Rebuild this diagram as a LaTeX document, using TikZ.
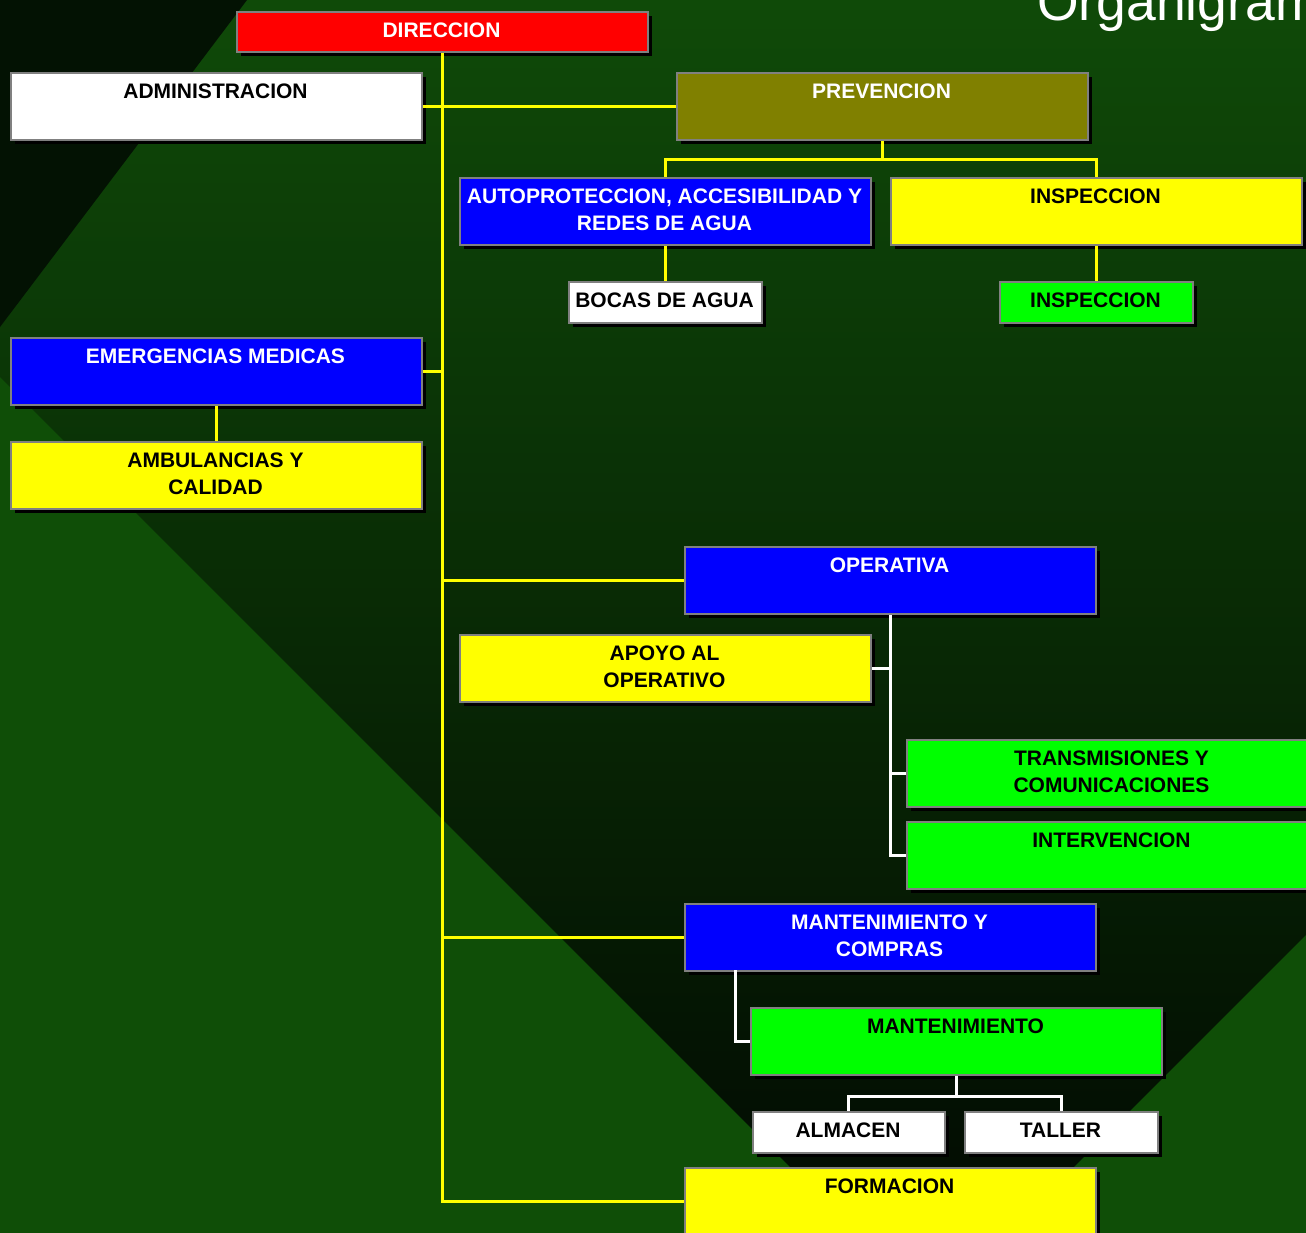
\documentclass[tikz,border=0pt]{standalone}
\usepackage{fontspec}
\setmainfont{Liberation Sans}
\usetikzlibrary{shadows}
\definecolor{bgtop}{HTML}{0F4A08}
\definecolor{bgmid}{HTML}{093206}
\definecolor{bgbot}{HTML}{020A02}
\definecolor{bglight}{HTML}{0F4E07}
\definecolor{bgdark}{HTML}{031203}
\definecolor{olivebox}{HTML}{808000}
\definecolor{bluebox}{HTML}{0000FF}
\definecolor{yellowbox}{HTML}{FFFF00}
\definecolor{greenbox}{HTML}{00FF00}
\definecolor{redbox}{HTML}{FF0000}
\definecolor{edgegray}{HTML}{808080}
\newcommand{\obox}[8]{%
  \node[orgbox, fill=#6, minimum width={#4-#2}, minimum height={#5-#3}] (#1) at (#2,#3) {};
  \node[lbl, text=#7] (#1-t) at ({(#2+#4)/2},{#3+12}) {#8};
}
\begin{document}
\begin{tikzpicture}[x=1pt,y=-1pt,
  orgbox/.style={draw=edgegray, line width=1.8pt, rectangle, inner sep=0pt, anchor=north west,
    drop shadow={shadow xshift=4.5pt, shadow yshift=-4.5pt, opacity=1, fill=black}},
  lbl/.style={anchor=north, inner sep=0pt, align=center, font=\fontsize{21}{26.5}\selectfont\bfseries},
  ylink/.style={draw=yellowbox, line width=3pt},
  wlink/.style={draw=white, line width=3pt},
]
\useasboundingbox (0,0) rectangle (1306,1233);
\begin{scope}
\clip (0,0) rectangle (1306,1233);
% background
\shade[top color=bgtop, middle color=bgmid, bottom color=bgbot] (0,0) rectangle (1306,1233);
\fill[bgdark] (0,0) -- (247,0) -- (0,327) -- cycle;
\fill[bglight] (0,377) -- (856,1233) -- (0,1233) -- cycle;
\fill[bglight] (1306,935) -- (1008,1233) -- (1306,1233) -- cycle;

% title (cut by the right edge, as in the reference)
\node[anchor=base west, text=white, inner sep=0pt, font=\fontsize{53.5}{64}\selectfont] (title) at (1037,21) {Organigrama};

% boxes
\obox{dir}{236}{11}{647}{51}{redbox}{white}{DIRECCION}
\obox{adm}{10}{72}{421}{139}{white}{black}{ADMINISTRACION}
\obox{prev}{676}{72}{1087}{139}{olivebox}{white}{PREVENCION}
\obox{auto}{459}{177}{870}{244}{bluebox}{white}{AUTOPROTECCION, ACCESIBILIDAD Y\\REDES DE AGUA}
\obox{insp}{890}{177}{1301}{244}{yellowbox}{black}{INSPECCION}
\obox{bocas}{568}{281}{761}{322}{white}{black}{BOCAS DE AGUA}
\obox{insp2}{999}{281}{1192}{322}{greenbox}{black}{INSPECCION}
\obox{emer}{10}{337}{421}{404}{bluebox}{white}{EMERGENCIAS MEDICAS}
\obox{amb}{10}{441}{421}{508}{yellowbox}{black}{AMBULANCIAS Y\\CALIDAD}
\obox{oper}{684}{546}{1095}{613}{bluebox}{white}{OPERATIVA}
\obox{apoyo}{459}{634}{870}{701}{yellowbox}{black}{APOYO AL\\OPERATIVO}
\obox{trans}{906}{739}{1317}{806}{greenbox}{black}{TRANSMISIONES Y\\COMUNICACIONES}
\obox{interv}{906}{821}{1317}{888}{greenbox}{black}{INTERVENCION}
\obox{mant}{684}{903}{1095}{970}{bluebox}{white}{MANTENIMIENTO Y\\COMPRAS}
\obox{mantm}{750}{1007}{1161}{1074}{greenbox}{black}{MANTENIMIENTO}
\obox{alm}{752}{1111}{944}{1152}{white}{black}{ALMACEN}
\obox{tal}{964}{1111}{1157}{1152}{white}{black}{TALLER}
\obox{form}{684}{1167}{1095}{1234}{yellowbox}{black}{FORMACION}

% yellow connectors
\draw[ylink] (dir.south) |- (form.west);
\draw[ylink] (adm.east) -- (prev.west);
\draw[ylink] (emer.east) -- (emer.east -| dir.south);
\draw[ylink] (oper.west) -- (oper.west -| dir.south);
\draw[ylink] (mant.west) -- (mant.west -| dir.south);
\path (prev.south) ++(0,19) coordinate (pj);
\draw[ylink] (prev.south) -- (pj);
\draw[ylink] (auto.north) |- (pj) -| (insp.north);
\draw[ylink] (auto.south) -- (bocas.north);
\draw[ylink] (insp.south) -- (insp2.north);
\draw[ylink] (emer.south) -- (amb.north);

% white connectors
\draw[wlink] (oper.south) |- (interv.west);
\draw[wlink] (apoyo.east) -- (apoyo.east -| oper.south);
\draw[wlink] (trans.west) -- (trans.west -| oper.south);
\coordinate (mcx) at (735,970);
\draw[wlink] (mcx) |- (mantm.west);
\path (mantm.south) ++(0,21) coordinate (mj);
\draw[wlink] (mantm.south) -- (mj);
\draw[wlink] (alm.north) |- (mj) -| (tal.north);
\end{scope}
\end{tikzpicture}
\end{document}
